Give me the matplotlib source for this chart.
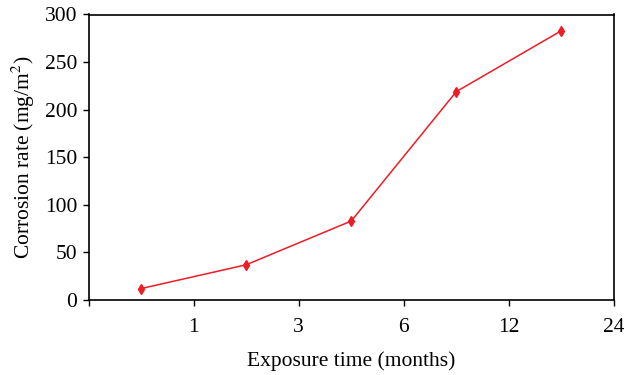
import matplotlib
matplotlib.use("Agg")
import matplotlib.pyplot as plt

# Exposure time ticks and corrosion rate measurements
tick_labels = ["1", "3", "6", "12", "24"]
tick_pos = [1, 2, 3, 4, 5]
x_points = [0.5, 1.5, 2.5, 3.5, 4.5]
corrosion = [12, 37, 83, 219, 283]

plt.rcParams["font.family"] = ["Liberation Serif", "DejaVu Serif"]
plt.rcParams["mathtext.fontset"] = "stix"

fig = plt.figure(figsize=(6.24, 3.75), dpi=100)
ax = fig.add_axes([88.5 / 624, 1 - 300 / 375, (614 - 88.5) / 624, (300 - 14.5) / 375])

ax.plot(x_points, corrosion, color="#ee1c25", linewidth=1.1,
        marker="d", markersize=5.5, markeredgewidth=1)

ax.set_xlim(0, 5)
ax.set_ylim(0, 300)
ax.set_xticks([0] + tick_pos)
ax.set_xticklabels([""] + tick_labels)
ax.set_yticks(range(0, 301, 50))

ax.tick_params(axis="both", direction="out", length=4, width=1, labelsize=15.5, pad=4)
ax.tick_params(axis="x", pad=9)
for s in ax.spines.values():
    s.set_linewidth(1.2)

ax.set_xlabel("Exposure time (months)", fontsize=15.5, labelpad=10)
ax.set_ylabel("Corrosion rate (mg/m$^2$)", fontsize=15.5, labelpad=6)

fig.savefig("out.png", dpi=100)
